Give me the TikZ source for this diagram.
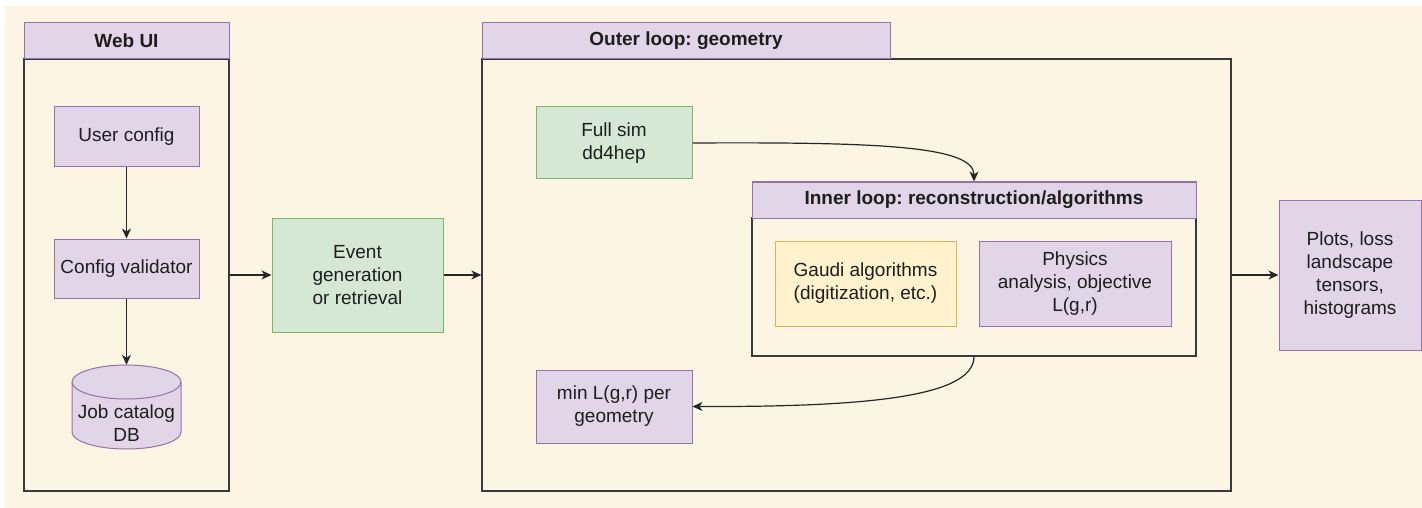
\documentclass[tikz,border=0pt]{standalone}
\usepackage{fontspec}
\setmainfont{Liberation Sans}
\usetikzlibrary{arrows.meta}
\frenchspacing
\definecolor{bgc}{HTML}{FDF5E3}
\definecolor{pfill}{HTML}{E1D5E7}
\definecolor{pdraw}{HTML}{9673A6}
\definecolor{gfill}{HTML}{D5E8D4}
\definecolor{gdraw}{HTML}{82B366}
\definecolor{yfill}{HTML}{FFF2CC}
\definecolor{ydraw}{HTML}{D6B656}
\definecolor{cdraw}{HTML}{3A3A3A}
\definecolor{txt}{HTML}{1E1E1E}
\tikzset{
  base/.style={rectangle, inner sep=0pt, align=center, text=txt,
    font=\fontsize{19}{23}\selectfont\frenchspacing},
  pbox/.style={base, fill=pfill, draw=pdraw, line width=1pt},
  gbox/.style={base, fill=gfill, draw=gdraw, line width=1pt},
  ybox/.style={base, fill=yfill, draw=ydraw, line width=1pt},
  container/.style={rectangle, inner sep=0pt, fill=bgc, draw=cdraw, line width=1.3pt},
  header/.style={pbox, font=\fontsize{19}{23}\selectfont\bfseries\frenchspacing},
  arr/.style={draw=black!85, line width=1.2pt, -{Stealth[length=10pt,width=9pt,inset=3pt]}},
}
\begin{document}
\begin{tikzpicture}[x=1pt, y=-1pt]
\useasboundingbox (0,0) rectangle (1422,508);
\fill[bgc] (5,6) rectangle (1422,508);

% Web UI container
\node[container, minimum width=205pt, minimum height=432pt] (webbody) at (126.5,275) {};
\node[header, minimum width=205pt, minimum height=36pt] (webhead) at (126.5,41) {Web UI};
\node[pbox, minimum width=145pt, minimum height=60pt] (user) at (126.5,137) {User config};
\node[pbox, minimum width=145pt, minimum height=59pt] (valid) at (126.5,268.5) {Config validator};
\node[rectangle, inner sep=0pt, minimum width=109pt, minimum height=84pt] (db) at (126.5,407) {};
\filldraw[fill=pfill, draw=pdraw, line width=1pt]
  (72,382) -- (72,432) arc (180:360:54.5pt and 17pt) -- (181,382) arc (0:180:54.5pt and 17pt) -- cycle;
\draw[draw=pdraw, line width=1pt] (72,382) arc (180:360:54.5pt and 17pt);
\node[base] (dbtext) at (126.5,423) {Job catalog\\DB};

\draw[arr] (user.south) -- (valid.north);
\draw[arr] (valid.south) -- (db.north);

% Event
\node[gbox, minimum width=171pt, minimum height=114pt] (event) at (357.5,275) {Event\\generation\\ or retrieval};

% Outer loop container
\node[container, minimum width=749pt, minimum height=432pt] (outbody) at (856.5,275) {};
\node[header, minimum width=408pt, minimum height=36pt] (outhead) at (686,41) {Outer loop: geometry};
\node[gbox, minimum width=156pt, minimum height=72pt] (fullsim) at (614,143) {Full sim\\dd4hep};

% Inner loop container
\node[container, minimum width=444pt, minimum height=138pt] (inbody) at (974,287) {};
\node[header, minimum width=444pt, minimum height=36pt] (inhead) at (974,200) {Inner loop: reconstruction/algorithms};
\node[ybox, minimum width=181pt, minimum height=85pt] (gaudi) at (865.5,283.5) {Gaudi algorithms\\(digitization, etc.)};
\node[pbox, minimum width=192pt, minimum height=85pt] (phys) at (1075,283.5) {Physics\\analysis, objective\\L(g,r)};

\node[pbox, minimum width=156pt, minimum height=73pt] (minl) at (614,406.5) {min L(g,r) per\\geometry};

% Plots
\node[pbox, minimum width=142pt, minimum height=150pt] (plots) at (1350,275) {Plots, loss\\landscape\\tensors,\\histograms};

% connectors
\draw[arr] (webbody.east) -- (event.west);
\draw[arr] (event.east) -- (outbody.west);
\draw[arr] (outbody.east) -- (plots.west);
\draw[arr] (fullsim.east) .. controls (880,142) and (974,146) .. (inhead.north);
\draw[arr] (inbody.south) .. controls (974,398) and (860,407) .. (minl.east);
\end{tikzpicture}
\end{document}
